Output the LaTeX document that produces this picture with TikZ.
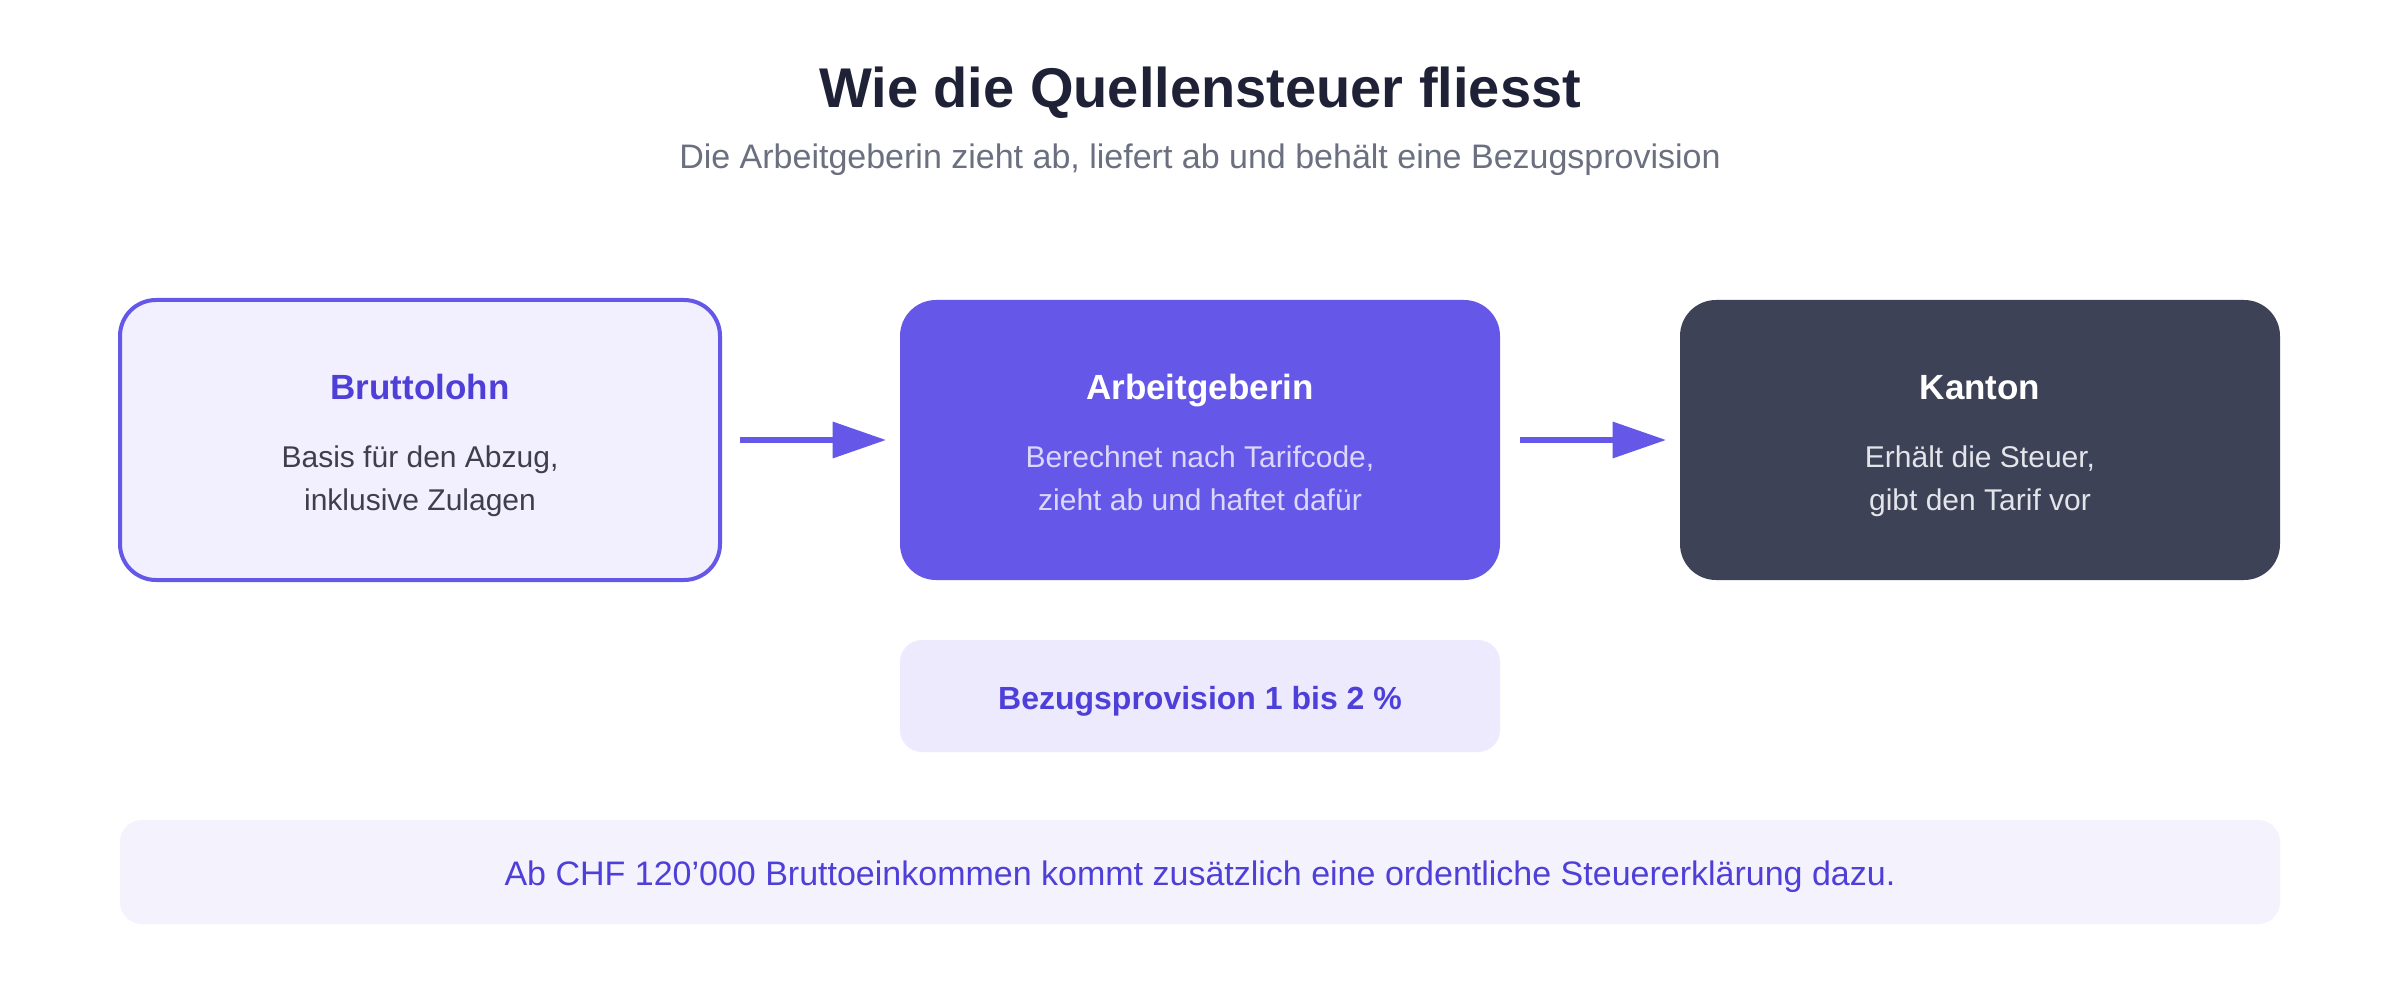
\documentclass[tikz,border=0pt]{standalone}
\usepackage{fontspec}
\setmainfont{Liberation Sans}
\usetikzlibrary{arrows.meta}
\definecolor{titlec}{HTML}{1F2236}
\definecolor{subc}{HTML}{6B7080}
\definecolor{accent}{HTML}{6557E8}
\definecolor{bruttofill}{HTML}{F2F0FE}
\definecolor{headpurple}{HTML}{4F3FD9}
\definecolor{bruttodesc}{HTML}{3F3F4B}
\definecolor{arbeitdesc}{HTML}{DCD8FC}
\definecolor{kantonfill}{HTML}{3D4257}
\definecolor{kantondesc}{HTML}{E3E5EA}
\definecolor{bezugfill}{HTML}{ECEAFC}
\definecolor{notefill}{HTML}{F3F2FD}
\begin{document}
\begin{tikzpicture}[x=0.5pt,y=-0.5pt,
  mainbox/.style={rounded corners=18pt, minimum width=300pt, minimum height=140pt, inner sep=0pt, outer sep=0pt},
  headtxt/.style={anchor=base, inner sep=0pt, font=\fontsize{17.5pt}{21pt}\selectfont\bfseries},
  desctxt/.style={anchor=base, inner sep=0pt, font=\fontsize{15pt}{18pt}\selectfont},
  flow/.style={draw=accent, line width=2.67pt, -{Triangle[length=26.7pt,width=17.7pt]}, shorten <=10pt, shorten >=7pt}
]
\useasboundingbox (0,0) rectangle (2400,1000);
\fill[white] (0,0) rectangle (2400,1000);

% title
\node[anchor=base, inner sep=0pt, font=\fontsize{28pt}{34pt}\selectfont\bfseries, text=titlec] (title) at (1200,108) {Wie die Quellensteuer fliesst};
\node[anchor=base, inner sep=0pt, font=\fontsize{17pt}{20pt}\selectfont, text=subc] (subtitle) at (1200,169) {Die Arbeitgeberin zieht ab, liefert ab und behält eine Bezugsprovision};

% boxes
\node[mainbox, fill=bruttofill, draw=accent, line width=2pt] (brutto) at (420,440) {};
\node[mainbox, fill=accent] (arbeit) at (1200,440) {};
\node[mainbox, fill=kantonfill] (kanton) at (1980,440) {};

\node[headtxt, text=headpurple] (bruttoH) at (420,400) {Bruttolohn};
\node[desctxt, text=bruttodesc] (bruttoA) at (420,467) {Basis für den Abzug,};
\node[desctxt, text=bruttodesc] (bruttoB) at (420,510) {inklusive Zulagen};

\node[headtxt, text=white] (arbeitH) at (1200,400) {Arbeitgeberin};
\node[desctxt, text=arbeitdesc] (arbeitA) at (1200,467) {Berechnet nach Tarifcode,};
\node[desctxt, text=arbeitdesc] (arbeitB) at (1200,510) {zieht ab und haftet dafür};

\node[headtxt, text=white] (kantonH) at (1980,400) {Kanton};
\node[desctxt, text=kantondesc] (kantonA) at (1980,467) {Erhält die Steuer,};
\node[desctxt, text=kantondesc] (kantonB) at (1980,510) {gibt den Tarif vor};

% arrows
\draw[flow] (brutto) -- (arbeit);
\draw[flow] (arbeit) -- (kanton);

% provision
\node[rounded corners=11pt, minimum width=300pt, minimum height=56pt, inner sep=0pt, outer sep=0pt, fill=bezugfill] (bezug) at (1200,696) {};
\node[anchor=base, inner sep=0pt, font=\fontsize{16pt}{19pt}\selectfont\bfseries, text=headpurple] (bezugT) at (1200,709) {Bezugsprovision 1 bis 2 \%};

% note
\node[rounded corners=11pt, minimum width=1080pt, minimum height=52pt, inner sep=0pt, outer sep=0pt, fill=notefill] (note) at (1200,872) {};
\node[anchor=base, inner sep=0pt, font=\fontsize{17pt}{20pt}\selectfont, text=headpurple] (noteT) at (1200,885) {Ab CHF 120’000 Bruttoeinkommen kommt zusätzlich eine ordentliche Steuererklärung dazu.};
\end{tikzpicture}
\end{document}
